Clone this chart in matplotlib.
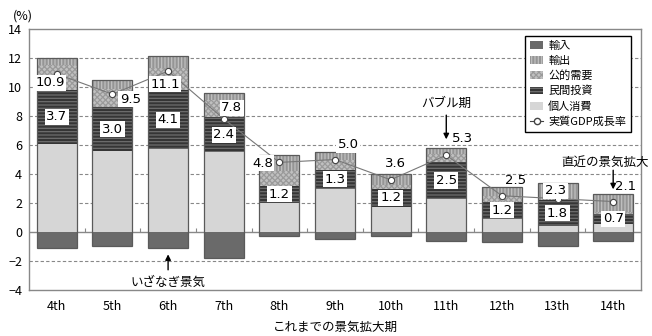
import numpy as np
import matplotlib
matplotlib.use('Agg')
import matplotlib.pyplot as plt
from matplotlib.patches import Patch
from matplotlib.lines import Line2D

plt.rcParams['font.family'] = ['Noto Sans CJK JP', 'DejaVu Sans']
plt.rcParams['hatch.linewidth'] = 0.9

# data (percentage points)
periods = ['4th', '5th', '6th', '7th', '8th', '9th', '10th', '11th', '12th', '13th', '14th']
consumption = [6.1, 5.6, 5.7, 5.5, 2.0, 3.0, 1.75, 2.3, 0.9, 0.4, 0.55]
investment = [3.7, 3.0, 4.1, 2.4, 1.2, 1.3, 1.2, 2.5, 1.2, 1.8, 0.7]
public = [1.75, 1.25, 1.5, 1.2, 1.0, 0.7, 0.3, 0.6, 0.35, 0.0, 0.15]
exports = [0.45, 0.65, 0.85, 0.5, 1.1, 0.55, 0.75, 0.4, 0.65, 1.15, 1.2]
imports = [-1.1, -0.95, -1.1, -1.8, -0.3, -0.5, -0.3, -0.6, -0.7, -0.95, -0.6]
gdp = [10.9, 9.5, 11.1, 7.8, 4.8, 5.0, 3.6, 5.3, 2.5, 2.3, 2.1]

names = ['輸入', '輸出', '公的需要', '民間投資', '個人消費']

fig = plt.figure(figsize=(6.52, 3.36), dpi=100)
ax = fig.add_axes([29/652, 46/336, 612/652, 261/336])

x = np.arange(len(periods))
w = 0.72

# style per series: face, hatch, hatch colour
st = {
    '輸入': ('#6a6a6a', None, '#6a6a6a'),
    '輸出': ('#959595', '|||||', '#c0c0c0'),
    '公的需要': ('#c0c0c0', 'xxxxxx', '#9a9a9a'),
    '民間投資': ('#353535', '-----', '#6e6e6e'),
    '個人消費': ('#d6d6d6', None, '#d6d6d6'),
}

bottom = np.zeros(len(x))
for nm, vals in [('個人消費', consumption), ('民間投資', investment),
                 ('公的需要', public), ('輸出', exports)]:
    fc, h, hc = st[nm]
    ax.bar(x, vals, w, bottom=bottom, color=fc, hatch=h, edgecolor=hc, lw=0, zorder=2)
    bottom = bottom + np.array(vals)
fc, h, hc = st['輸入']
ax.bar(x, imports, w, color=fc, edgecolor=hc, lw=0, zorder=2)

# outline of each whole bar
ax.bar(x, bottom - np.array(imports), w, bottom=imports, fill=False,
       edgecolor='#5a5a5a', lw=0.9, zorder=2.5)

# investment labels
inv_mid = np.array(consumption) + np.array(investment) / 2
for xi, yi, v in zip(x, inv_mid, investment):
    ax.text(xi, yi, f'{v:.1f}', ha='center', va='center', fontsize=9.5,
            family=['DejaVu Sans'], zorder=4,
            bbox=dict(boxstyle='square,pad=0.12', fc='white', ec='none'))

# GDP line
ax.plot(x, gdp, color='#777777', lw=0.8, marker='o', ms=4.5, mfc='white',
        mec='#444444', mew=0.8, zorder=3)
offs = [(-7, -9), (18, -5), (-3, -13), (8, 11), (-17, -1), (13, 15),
        (5, 16), (16, 17), (14, 15), (-2, 8), (12, 15)]
boxed = [True, True, True, True, True, True, False, False, False, True, False]
for xi, g, o, b in zip(x, gdp, offs, boxed):
    bb = dict(boxstyle='square,pad=0.12', fc='white', ec='none') if b else None
    ax.annotate(f'{g:.1f}', (xi, g), xytext=o, textcoords='offset pixels',
                ha='center', va='center', fontsize=9.5, family=['DejaVu Sans'],
                zorder=4, bbox=bb)

# axes styling
ax.set_xlim(-0.5, len(x) - 0.5)
ax.set_ylim(-4, 14)
ax.set_yticks(np.arange(-4, 15, 2))
ax.set_xticks(x)
ax.set_xticklabels(periods)
ax.tick_params(length=0, labelsize=9, pad=5)
ax.tick_params(axis='x', pad=7)
for yv in [-2, 2, 4, 6, 8, 10, 12]:
    ax.axhline(yv, color='#888888', lw=0.8, ls=(0, (3, 2)), zorder=1)
ax.axhline(0, color='#888888', lw=1.0, zorder=1)
ax.vlines(x[:-1] + 0.5, 0, 0.3, color='#888888', lw=0.8, zorder=1)
for s in ax.spines.values():
    s.set_color('#888888')
    s.set_linewidth(1.0)

ax.set_xlabel('これまでの景気拡大期', fontsize=9, labelpad=6)
fig.text(23/652, 1 - 16/336, '(%)', ha='center', va='center', fontsize=9)

# annotations
arr = dict(arrowstyle='-|>', color='black', lw=1.0, mutation_scale=8)
ax.annotate('', xy=(2, -1.35), xytext=(2, -2.8), arrowprops=arr, zorder=5)
ax.text(2, -3.45, 'いざなぎ景気', ha='center', va='center', fontsize=9)
ax.annotate('', xy=(7, 6.2), xytext=(7, 8.25), arrowprops=arr, zorder=5)
ax.text(7, 8.9, 'バブル期', ha='center', va='center', fontsize=9)
ax.annotate('', xy=(10, 2.75), xytext=(10, 4.45), arrowprops=arr, zorder=5)
ax.text(9.85, 4.8, '直近の景気拡大', ha='center', va='center', fontsize=9)

# legend
handles = [Patch(facecolor=st[n][0], hatch=st[n][1], edgecolor=st[n][2], lw=0) for n in names]
handles.append(Line2D([], [], color='#444444', lw=0.8, marker='o', ms=4.5,
                      mfc='white', mec='#444444'))
leg = ax.legend(handles, names + ['実質GDP成長率'], loc='upper right',
                bbox_to_anchor=(0.984, 0.974), fontsize=8, frameon=True,
                fancybox=False, edgecolor='black', framealpha=1,
                handlelength=1.1, handleheight=0.7, labelspacing=0.42,
                borderpad=0.45, handletextpad=0.5, borderaxespad=0)
leg.get_frame().set_linewidth(1.0)
leg.set_zorder(6)

fig.savefig('out.png', dpi=100)
